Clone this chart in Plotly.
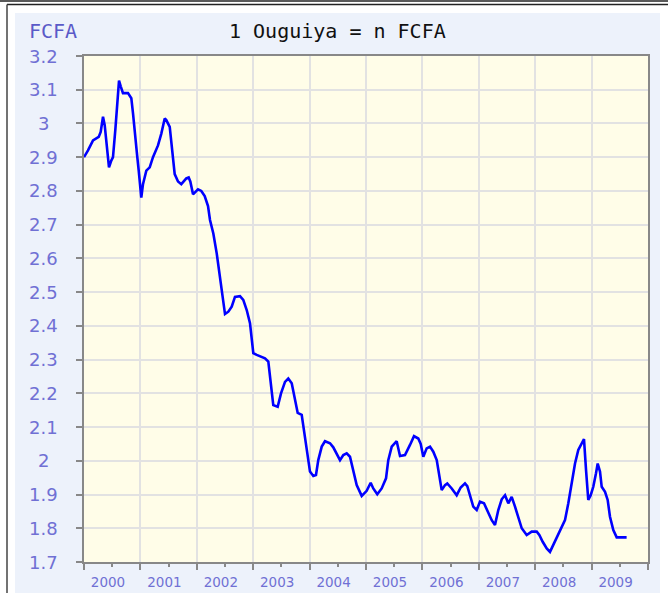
import plotly.graph_objects as go

# exchange rate, 1 ouguiya in FCFA (x = decimal year)
years = [
    2000.000, 2000.071, 2000.160, 2000.261, 2000.296, 2000.337, 2000.367, 2000.408,
    2000.443, 2000.484, 2000.514, 2000.555, 2000.585, 2000.603, 2000.621, 2000.651,
    2000.691, 2000.780, 2000.839, 2000.869, 2000.910, 2000.945, 2000.970, 2001.016,
    2001.046, 2001.105, 2001.165, 2001.223, 2001.312, 2001.371, 2001.431, 2001.459,
    2001.520, 2001.566, 2001.608, 2001.667, 2001.725, 2001.814, 2001.856, 2001.885,
    2001.933, 2002.021, 2002.080, 2002.140, 2002.199, 2002.234, 2002.293, 2002.353,
    2002.394, 2002.441, 2002.500, 2002.559, 2002.619, 2002.677, 2002.766, 2002.824,
    2002.885, 2002.943, 2003.002, 2003.062, 2003.151, 2003.209, 2003.268, 2003.316,
    2003.356, 2003.434, 2003.493, 2003.564, 2003.622, 2003.683, 2003.741, 2003.789,
    2003.860, 2003.901, 2003.949, 2004.007, 2004.066, 2004.113, 2004.154, 2004.215,
    2004.273, 2004.362, 2004.420, 2004.481, 2004.539, 2004.598, 2004.658, 2004.716,
    2004.775, 2004.835, 2004.924, 2005.012, 2005.083, 2005.129, 2005.200, 2005.278,
    2005.355, 2005.395, 2005.456, 2005.544, 2005.603, 2005.691, 2005.780, 2005.851,
    2005.927, 2005.970, 2006.016, 2006.076, 2006.135, 2006.193, 2006.254, 2006.300,
    2006.342, 2006.401, 2006.441, 2006.520, 2006.608, 2006.679, 2006.755, 2006.796,
    2006.856, 2006.902, 2006.963, 2007.021, 2007.092, 2007.168, 2007.229, 2007.287,
    2007.346, 2007.406, 2007.465, 2007.523, 2007.583, 2007.642, 2007.700, 2007.761,
    2007.849, 2007.938, 2008.027, 2008.073, 2008.133, 2008.204, 2008.262, 2008.321,
    2008.381, 2008.470, 2008.528, 2008.587, 2008.647, 2008.706, 2008.764, 2008.824,
    2008.865, 2008.901, 2008.941, 2008.984, 2009.030, 2009.078, 2009.108, 2009.149,
    2009.179, 2009.238, 2009.285, 2009.326, 2009.385, 2009.445, 2009.534, 2009.621,
]
fcfa = [
    2.900, 2.920, 2.950, 2.960, 2.975, 3.020, 2.995, 2.926,
    2.870, 2.890, 2.900, 2.980, 3.040, 3.100, 3.127, 3.110,
    3.090, 3.090, 3.075, 3.030, 2.950, 2.900, 2.860, 2.780,
    2.820, 2.860, 2.870, 2.900, 2.935, 2.970, 3.015, 3.010,
    2.990, 2.920, 2.850, 2.828, 2.820, 2.837, 2.840, 2.828,
    2.790, 2.805, 2.800, 2.785, 2.755, 2.714, 2.674, 2.615,
    2.566, 2.496, 2.435, 2.442, 2.457, 2.486, 2.488, 2.477,
    2.447, 2.408, 2.319, 2.314, 2.309, 2.304, 2.294, 2.230,
    2.165, 2.160, 2.200, 2.234, 2.244, 2.230, 2.180, 2.142,
    2.136, 2.090, 2.032, 1.968, 1.955, 1.958, 2.002, 2.042,
    2.058, 2.052, 2.040, 2.022, 2.002, 2.017, 2.022, 2.012,
    1.973, 1.928, 1.896, 1.911, 1.935, 1.918, 1.901, 1.918,
    1.948, 2.002, 2.042, 2.058, 2.014, 2.017, 2.047, 2.073,
    2.066, 2.050, 2.012, 2.037, 2.042, 2.027, 2.002, 1.953,
    1.913, 1.928, 1.933, 1.918, 1.898, 1.921, 1.933, 1.925,
    1.889, 1.864, 1.854, 1.879, 1.874, 1.844, 1.824, 1.810,
    1.854, 1.886, 1.898, 1.874, 1.893, 1.864, 1.834, 1.800,
    1.780, 1.790, 1.790, 1.780, 1.760, 1.740, 1.730, 1.750,
    1.770, 1.800, 1.824, 1.874, 1.933, 1.992, 2.032, 2.052,
    2.064, 1.973, 1.884, 1.898, 1.923, 1.963, 1.992, 1.968,
    1.923, 1.908, 1.884, 1.834, 1.795, 1.773, 1.773, 1.773,
]

year_ticks = list(range(2000, 2011))
year_labels = [str(y) for y in range(2000, 2010)] + [""]
y_ticks = [1.7, 1.8, 1.9, 2.0, 2.1, 2.2, 2.3, 2.4, 2.5, 2.6, 2.7, 2.8, 2.9, 3.0, 3.1, 3.2]
y_labels = ["1.7", "1.8", "1.9", "2", "2.1", "2.2", "2.3", "2.4", "2.5",
            "2.6", "2.7", "2.8", "2.9", "3", "3.1", "3.2"]

W, H = 668, 593
L, R, T, B = 84, 20, 56, 31
pw, ph = W - L - R, H - T - B


def px(x):  # pixel -> paper x
    return (x - L) / pw


def py(y):  # pixel -> paper y
    return (H - B - y) / ph


label_blue = "#7070d4"

fig = go.Figure()
fig.add_trace(go.Scatter(
    x=years, y=fcfa, mode="lines",
    line=dict(color="#0000ff", width=2.6),
    showlegend=False, hoverinfo="x+y",
))

shapes = [
    # light blue panel
    dict(type="rect", xref="paper", yref="paper", x0=px(15), x1=px(660),
         y0=py(600), y1=py(13), fillcolor="#edf2fb", line=dict(width=0), layer="below"),
    # cream plot area
    dict(type="rect", xref="paper", yref="paper", x0=0, x1=1, y0=0, y1=1,
         fillcolor="#fffde8", line=dict(width=0), layer="below"),
    # outer frame lines
    dict(type="line", xref="paper", yref="paper", x0=px(0), x1=px(668), y0=py(1), y1=py(1),
         line=dict(color="#222222", width=1.5)),
    dict(type="line", xref="paper", yref="paper", x0=px(7), x1=px(668), y0=py(4.5), y1=py(4.5),
         line=dict(color="#222222", width=1.5)),
    dict(type="line", xref="paper", yref="paper", x0=px(7), x1=px(7), y0=py(4.5), y1=py(600),
         line=dict(color="#444444", width=1.5)),
]

annotations = [
    dict(text="1 Ouguiya = n FCFA", xref="paper", yref="paper", x=px(337.5), y=py(31),
         xanchor="center", yanchor="middle", showarrow=False,
         font=dict(family="DejaVu Sans Mono", size=20, color="#111111")),
    dict(text="FCFA", xref="paper", yref="paper", x=px(27), y=py(31),
         xanchor="left", yanchor="middle", showarrow=False,
         font=dict(family="DejaVu Sans Mono", size=20, color="#5a5ac8")),
]
for v, t in zip(y_ticks, y_labels):
    annotations.append(dict(
        text=t, xref="paper", yref="y", x=px(43), y=v,
        xanchor="center", yanchor="middle", showarrow=False,
        font=dict(family="DejaVu Sans", size=18, color=label_blue),
    ))

fig.update_layout(
    width=W, height=H,
    margin=dict(l=L, r=R, t=T, b=B, pad=0, autoexpand=False),
    paper_bgcolor="white",
    plot_bgcolor="#fffde8",
    shapes=shapes,
    annotations=annotations,
    xaxis=dict(
        range=[2000, 2010], tickmode="array", tickvals=year_ticks, ticktext=year_labels,
        ticks="outside", ticklen=6, tickcolor="#888888", tickwidth=1.5,
        ticklabelshift=24, ticklabelstandoff=1,
        tickfont=dict(family="DejaVu Sans", size=13.5, color=label_blue),
        showgrid=True, gridcolor="#e2e2e2", gridwidth=1.5,
        showline=True, linecolor="#888888", linewidth=1.5, mirror=True,
        zeroline=False, fixedrange=True, automargin=False,
        minor=dict(tickmode="array", tickvals=[y + 0.5 for y in range(2000, 2010)],
                   ticks="outside", ticklen=3, tickcolor="#888888", showgrid=False),
    ),
    yaxis=dict(
        range=[1.7, 3.2], tickmode="array", tickvals=y_ticks,
        showticklabels=False,
        ticks="outside", ticklen=6, tickcolor="#888888", tickwidth=1.5,
        showgrid=True, gridcolor="#e2e2e2", gridwidth=1.5,
        showline=True, linecolor="#888888", linewidth=1.5, mirror=True,
        zeroline=False, fixedrange=True, automargin=False,
    ),
)

# drop the default body margin so the figure sits at the page origin
fig.write_html("out.html", config={"displayModeBar": False},
               post_script="document.body.style.margin='0px';")
